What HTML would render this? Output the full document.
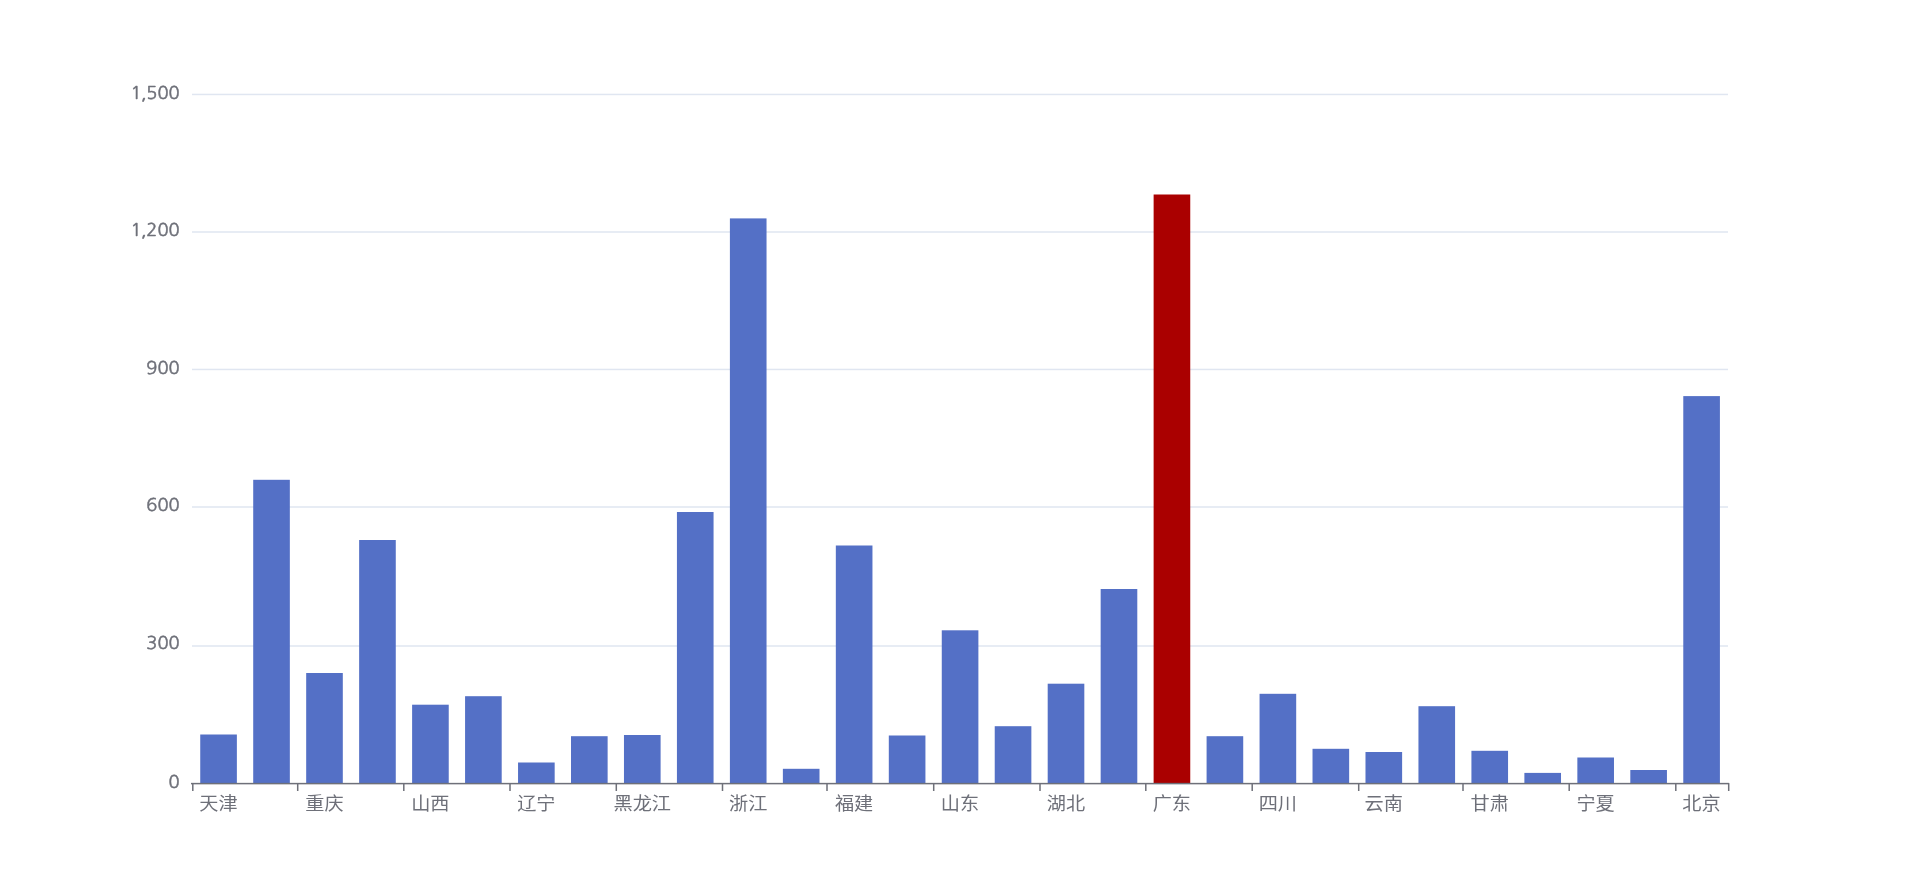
<!DOCTYPE html>
<html><head><meta charset="utf-8"><title>chart</title>
<style>
html,body{margin:0;padding:0;background:#fff;width:1920px;height:892px;overflow:hidden}
svg{display:block}
.t{fill:#6E7079;font-family:"Liberation Sans","Noto Sans CJK SC",sans-serif}
.yl{font-family:"NanumGothic","Liberation Sans",sans-serif;font-size:18.3px;stroke:#6E7079;stroke-width:0.5px;text-rendering:geometricPrecision}
.xl{font-family:"Liberation Sans","Noto Sans CJK SC",sans-serif;font-size:18px}
.soft{filter:blur(0.3px)}
</style></head><body>
<svg width="1920" height="892" viewBox="0 0 1920 892">
<rect x="0" y="0" width="1920" height="892" fill="#ffffff"/>
<g fill="#E0E6F1">
<rect x="192.0" y="93.70" width="1536.0" height="1.5"/>
<rect x="192.0" y="231.25" width="1536.0" height="1.5"/>
<rect x="192.0" y="368.70" width="1536.0" height="1.5"/>
<rect x="192.0" y="506.25" width="1536.0" height="1.5"/>
<rect x="192.0" y="645.25" width="1536.0" height="1.5"/>
</g>
<g>
<rect x="200.24" y="734.50" width="36.63" height="49.10" fill="#5470C6"/>
<rect x="253.21" y="479.80" width="36.63" height="303.80" fill="#5470C6"/>
<rect x="306.18" y="673.00" width="36.63" height="110.60" fill="#5470C6"/>
<rect x="359.14" y="540.00" width="36.63" height="243.60" fill="#5470C6"/>
<rect x="412.11" y="704.70" width="36.63" height="78.90" fill="#5470C6"/>
<rect x="465.07" y="696.20" width="36.63" height="87.40" fill="#5470C6"/>
<rect x="518.04" y="762.50" width="36.63" height="21.10" fill="#5470C6"/>
<rect x="571.00" y="736.20" width="36.63" height="47.40" fill="#5470C6"/>
<rect x="623.97" y="735.00" width="36.63" height="48.60" fill="#5470C6"/>
<rect x="676.93" y="512.00" width="36.63" height="271.60" fill="#5470C6"/>
<rect x="729.90" y="218.40" width="36.63" height="565.20" fill="#5470C6"/>
<rect x="782.87" y="768.80" width="36.63" height="14.80" fill="#5470C6"/>
<rect x="835.83" y="545.50" width="36.63" height="238.10" fill="#5470C6"/>
<rect x="888.80" y="735.50" width="36.63" height="48.10" fill="#5470C6"/>
<rect x="941.76" y="630.30" width="36.63" height="153.30" fill="#5470C6"/>
<rect x="994.73" y="726.20" width="36.63" height="57.40" fill="#5470C6"/>
<rect x="1047.69" y="683.70" width="36.63" height="99.90" fill="#5470C6"/>
<rect x="1100.66" y="589.00" width="36.63" height="194.60" fill="#5470C6"/>
<rect x="1153.62" y="194.50" width="36.63" height="589.10" fill="#AA0000"/>
<rect x="1206.59" y="736.20" width="36.63" height="47.40" fill="#5470C6"/>
<rect x="1259.56" y="693.80" width="36.63" height="89.80" fill="#5470C6"/>
<rect x="1312.52" y="748.80" width="36.63" height="34.80" fill="#5470C6"/>
<rect x="1365.49" y="752.00" width="36.63" height="31.60" fill="#5470C6"/>
<rect x="1418.45" y="706.20" width="36.63" height="77.40" fill="#5470C6"/>
<rect x="1471.42" y="750.80" width="36.63" height="32.80" fill="#5470C6"/>
<rect x="1524.38" y="772.90" width="36.63" height="10.70" fill="#5470C6"/>
<rect x="1577.35" y="757.50" width="36.63" height="26.10" fill="#5470C6"/>
<rect x="1630.31" y="770.00" width="36.63" height="13.60" fill="#5470C6"/>
<rect x="1683.28" y="396.10" width="36.63" height="387.50" fill="#5470C6"/>
</g>
<g fill="#6E7079">
<rect x="191.0" y="782.85" width="1538.0" height="1.5"/>
<rect x="192.05" y="783.10" width="1.5" height="7.90"/>
<rect x="296.95" y="783.10" width="1.5" height="7.90"/>
<rect x="403.05" y="783.10" width="1.5" height="7.90"/>
<rect x="509.25" y="783.10" width="1.5" height="7.90"/>
<rect x="615.55" y="783.10" width="1.5" height="7.90"/>
<rect x="721.75" y="783.10" width="1.5" height="7.90"/>
<rect x="826.25" y="783.10" width="1.5" height="7.90"/>
<rect x="932.95" y="783.10" width="1.5" height="7.90"/>
<rect x="1039.25" y="783.10" width="1.5" height="7.90"/>
<rect x="1145.05" y="783.10" width="1.5" height="7.90"/>
<rect x="1251.45" y="783.10" width="1.5" height="7.90"/>
<rect x="1357.95" y="783.10" width="1.5" height="7.90"/>
<rect x="1462.25" y="783.10" width="1.5" height="7.90"/>
<rect x="1568.45" y="783.10" width="1.5" height="7.90"/>
<rect x="1675.05" y="783.10" width="1.5" height="7.90"/>
<rect x="1727.95" y="783.10" width="1.5" height="7.90"/>
</g>
<g class="t soft">
<text class="yl" transform="translate(179.6,98.70) scale(1,0.96)" text-anchor="end">1<tspan dx="-0.6">,</tspan><tspan dx="-0.2">500</tspan></text>
<text class="yl" transform="translate(179.6,235.60) scale(1,0.96)" text-anchor="end">1<tspan dx="-0.6">,</tspan><tspan dx="-0.2">200</tspan></text>
<text class="yl" transform="translate(179.6,373.70) scale(1,0.96)" text-anchor="end">900</text>
<text class="yl" transform="translate(179.6,511.30) scale(1,0.96)" text-anchor="end">600</text>
<text class="yl" transform="translate(179.6,649.45) scale(1,0.96)" text-anchor="end">300</text>
<text class="yl" transform="translate(179.6,787.80) scale(1,0.96)" text-anchor="end">0</text>
<text class="xl" transform="translate(218.48,810) scale(1.065,1)" text-anchor="middle">天津</text>
<text class="xl" transform="translate(324.41,810) scale(1.065,1)" text-anchor="middle">重庆</text>
<text class="xl" transform="translate(430.34,810) scale(1.065,1)" text-anchor="middle">山西</text>
<text class="xl" transform="translate(536.28,810) scale(1.065,1)" text-anchor="middle">辽宁</text>
<text class="xl" transform="translate(642.21,810) scale(1.065,1)" text-anchor="middle">黑龙江</text>
<text class="xl" transform="translate(748.14,810) scale(1.065,1)" text-anchor="middle">浙江</text>
<text class="xl" transform="translate(854.07,810) scale(1.065,1)" text-anchor="middle">福建</text>
<text class="xl" transform="translate(960.00,810) scale(1.065,1)" text-anchor="middle">山东</text>
<text class="xl" transform="translate(1065.93,810) scale(1.065,1)" text-anchor="middle">湖北</text>
<text class="xl" transform="translate(1171.86,810) scale(1.065,1)" text-anchor="middle">广东</text>
<text class="xl" transform="translate(1277.79,810) scale(1.065,1)" text-anchor="middle">四川</text>
<text class="xl" transform="translate(1383.72,810) scale(1.065,1)" text-anchor="middle">云南</text>
<text class="xl" transform="translate(1489.66,810) scale(1.065,1)" text-anchor="middle">甘肃</text>
<text class="xl" transform="translate(1595.59,810) scale(1.065,1)" text-anchor="middle">宁夏</text>
<text class="xl" transform="translate(1701.52,810) scale(1.065,1)" text-anchor="middle">北京</text>
</g>
</svg>
</body></html>
